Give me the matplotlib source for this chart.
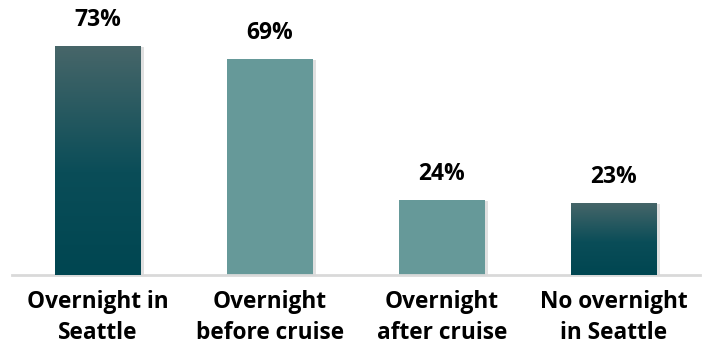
import numpy as np
import matplotlib.pyplot as plt
from matplotlib.colors import LinearSegmentedColormap
import matplotlib.patheffects as pe

categories = ['Overnight in\nSeattle', 'Overnight\nbefore cruise', 'Overnight\nafter cruise', 'No overnight\nin Seattle']
values = [73, 69, 24, 23]
gradient_bar = [True, False, False, True]

plt.rcParams['font.family'] = ['Open Sans', 'DejaVu Sans']

fig = plt.figure(figsize=(7.03, 3.45), dpi=100)
ax = fig.add_axes([12 / 703, (345 - 275) / 345, 688 / 703, 275 / 345])

x = np.arange(len(values))
bars = ax.bar(x, values, width=0.5, color='#669999', zorder=2)

# gradient for the dark bars: grey-teal at top fading to dark teal
cmap = LinearSegmentedColormap.from_list('tealgrad', [(0, '#004651'), (0.45, '#0a4d58'), (1, '#476669')])
grad = np.linspace(0, 1, 256).reshape(-1, 1)
for b, g in zip(bars, gradient_bar):
    b.set_path_effects([pe.SimplePatchShadow(offset=(2, -1), shadow_rgbFace='#999999', alpha=0.3), pe.Normal()])
    if g:
        b.set_facecolor('none')
        x0, w, h = b.get_x(), b.get_width(), b.get_height()
        im = ax.imshow(grad, cmap=cmap, aspect='auto', extent=[x0, x0 + w, 0, h],
                       origin='lower', zorder=3)
        im.set_clip_path(b)

for xi, v in zip(x, values):
    ax.text(xi, v + 8.3, f'{v}%', ha='center', va='center', fontsize=16.5,
            fontweight='bold', color='black')

ax.set_xlim(-0.5, 3.5)
ax.set_ylim(0, 87.7)
ax.set_xticks(x)
ax.set_xticklabels(categories, fontsize=16.3, fontweight='bold', linespacing=1.36)
ax.tick_params(axis='x', length=0, pad=11)
ax.set_yticks([])
for s in ['top', 'right', 'left']:
    ax.spines[s].set_visible(False)
ax.spines['bottom'].set_color('#d9d9d9')
ax.spines['bottom'].set_linewidth(2)

plt.savefig('out.png', dpi=100)
